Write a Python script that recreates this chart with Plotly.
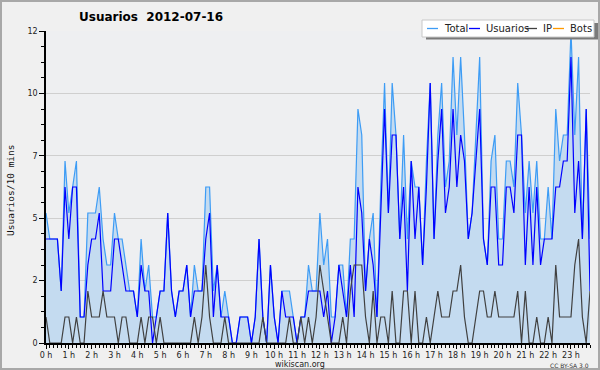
import plotly.graph_objects as go

# ---- data (10-minute intervals, 144 points) ----
hour_labels = [f"{h} h" for h in range(24)]
slots = list(range(144))

total = [5,4,4,4,2,7,5,6,7,1,1,5,5,5,6,4,3,3,5,4,4,3,2,
         2,1,4,2,3,1,1,2,2,5,2,1,2,2,3,1,3,2,2,6,6,
         2,3,1,2,1,0,0,1,1,1,0,1,4,1,0,3,1,0,2,2,2,1,0,1,1,3,2,2,
         5,3,4,1,1,3,3,1,4,4,9,8,2,4,5,1,6,10,5,10,8,4,8,4,
         7,6,6,3,7,10,4,8,10,6,7,11,8,11,8,4,5,8,11,4,3,7,8,
         4,4,7,7,6,10,8,5,7,5,7,4,4,6,4,9,7,8,8,12,8,11,4,9,4]

usuarios = [4,4,4,4,2,6,4,6,6,1,1,3,4,4,5,2,2,2,4,4,3,2,2,
            2,1,3,2,2,0,1,2,2,5,2,1,2,2,3,1,2,2,2,4,5,
            1,3,1,1,1,0,0,1,1,1,0,1,4,1,0,3,1,0,2,1,1,1,0,1,1,2,2,2,
            2,1,2,0,1,3,2,1,3,1,6,5,2,4,3,1,5,9,5,8,8,4,6,2,
            7,4,6,3,6,10,4,7,9,5,6,9,6,8,7,4,5,7,9,4,3,6,6,
            3,3,6,6,5,8,8,3,6,3,6,3,4,4,4,6,6,7,7,11,5,7,4,9,2]

ip = [1,0,0,0,0,1,1,0,1,0,0,2,1,1,1,2,1,1,1,0,1,1,0,
      0,0,1,0,1,1,0,1,0,0,0,0,0,0,0,0,1,0,1,3,1,0,0,0,
      1,0,0,0,0,0,0,0,0,0,1,0,0,0,0,0,0,1,0,0,1,0,1,0,1,
      3,2,1,0,0,0,1,0,2,3,3,3,1,0,2,0,1,1,0,2,0,0,2,2,
      0,2,0,0,1,0,1,2,1,1,1,2,2,3,1,0,0,1,2,2,1,1,2,
      1,1,1,1,1,2,0,2,0,0,1,0,0,1,0,3,1,1,1,1,3,4,1,0,2]

bots = [0] * 144

y_tickvals = [0, 2.4, 4.8, 7.2, 9.6, 12]
y_ticktext = ["0", "2", "5", "7", "10", "12"]

# ---- layout geometry (pixels) ----
W, H = 600, 370
L, R, T, B = 46, 10, 31, 27
PW, PH = W - L - R, H - T - B

def px(x):
    return (x - L) / PW

def py(y):
    return (H - B - y) / PH

C_TOTAL = "#3d9cf5"
C_FILL = "rgba(196,219,240,1)"
C_USU = "#0000ff"
C_IP = "#404040"
C_BOTS = "#ff9900"

fig = go.Figure()
fig.add_trace(go.Scatter(x=slots, y=bots, mode="lines", name="Bots",
                         line=dict(color=C_BOTS, width=1)))
fig.add_trace(go.Scatter(x=slots, y=total, mode="lines", name="Total",
                         fill="tozeroy", fillcolor=C_FILL,
                         line=dict(color=C_TOTAL, width=1.2)))
fig.add_trace(go.Scatter(x=slots, y=usuarios, mode="lines", name="Usuarios",
                         line=dict(color=C_USU, width=1.2)))
fig.add_trace(go.Scatter(x=slots, y=ip, mode="lines", name="IP",
                         line=dict(color=C_IP, width=1.2)))

shapes = []
annotations = []

# outer frame
shapes.append(dict(type="rect", xref="paper", yref="paper", layer="below",
                   x0=px(1), x1=px(599), y0=py(369), y1=py(1),
                   line=dict(color="#a8a8a8", width=2), fillcolor="rgba(0,0,0,0)"))

# legend (manual)
shapes.append(dict(type="rect", xref="paper", yref="paper", layer="above",
                   x0=px(426), x1=px(598), y0=py(39.5), y1=py(23),
                   line=dict(width=0), fillcolor="#7a7a7a"))
shapes.append(dict(type="rect", xref="paper", yref="paper", layer="above",
                   x0=px(422), x1=px(594), y0=py(37), y1=py(20),
                   line=dict(color="#c8c8c8", width=1), fillcolor="#ffffff"))
legend_items = [("Total", C_TOTAL, 427, 442),
                ("Usuarios", C_USU, 469, 484),
                ("IP", C_IP, 526, 541),
                ("Bots", C_BOTS, 553, 568)]
ly = 28.5
for name, col, lx, tx in legend_items:
    shapes.append(dict(type="line", xref="paper", yref="paper", layer="above",
                       x0=px(lx), x1=px(lx + 11), y0=py(ly), y1=py(ly),
                       line=dict(color=col, width=1.3)))
    annotations.append(dict(text=name, xref="paper", yref="paper",
                            x=px(tx), y=py(ly), xanchor="left", yanchor="middle",
                            showarrow=False,
                            font=dict(family="DejaVu Sans", size=10, color="#222")))

# title
annotations.append(dict(text="<b>Usuarios  2012-07-16</b>", xref="paper", yref="paper",
                        x=px(151), y=py(17), xanchor="center", yanchor="middle",
                        showarrow=False,
                        font=dict(family="DejaVu Sans", size=12, color="#000")))
# y axis title
annotations.append(dict(text="Usuarios/10 mins", xref="paper", yref="paper",
                        x=px(10), y=py(190), xanchor="center", yanchor="middle",
                        textangle=-90, showarrow=False,
                        font=dict(family="DejaVu Sans Mono", size=9.5, color="#111")))
# footer
annotations.append(dict(text="wikiscan.org", xref="paper", yref="paper",
                        x=px(300), y=py(364.5), xanchor="center", yanchor="middle",
                        showarrow=False,
                        font=dict(family="DejaVu Sans", size=8, color="#222")))
annotations.append(dict(text="CC BY-SA 3.0", xref="paper", yref="paper",
                        x=px(569), y=py(365.5), xanchor="center", yanchor="middle",
                        showarrow=False,
                        font=dict(family="DejaVu Sans", size=6, color="#333")))

fig.update_layout(
    width=W, height=H,
    margin=dict(l=L, r=R, t=T, b=B, pad=0, autoexpand=False),
    paper_bgcolor="#f0f0f0",
    plot_bgcolor="#eeeff1",
    showlegend=False,
    shapes=shapes,
    annotations=annotations,
    font=dict(family="DejaVu Sans", size=8, color="#222"),
)

fig.update_xaxes(
    range=[0, 143], tickmode="array",
    tickvals=list(range(0, 144, 6)), ticktext=hour_labels,
    ticks="outside", ticklen=4, tickwidth=1, tickcolor="#000",
    showline=True, linecolor="#000", linewidth=1.5,
    showgrid=False, zeroline=False, automargin=False,
    tickfont=dict(family="DejaVu Sans", size=8, color="#222"),
    minor=dict(ticks="outside", ticklen=3, tickcolor="#000", dtick=1, tick0=0, showgrid=False),
    fixedrange=True,
)
fig.update_yaxes(
    range=[0, 12], tickmode="array",
    tickvals=y_tickvals, ticktext=y_ticktext,
    ticks="outside", ticklen=5, tickwidth=1, tickcolor="#000",
    showline=True, linecolor="#000", linewidth=1.5,
    showgrid=True, gridcolor="#cfcfcf", gridwidth=1,
    zeroline=False, automargin=False,
    tickfont=dict(family="DejaVu Sans", size=8, color="#222"),
    minor=dict(ticks="outside", ticklen=3, tickcolor="#000", dtick=0.6, tick0=0, showgrid=False),
    fixedrange=True,
)

fig.write_html("out.html", config={"displayModeBar": False},
               post_script="document.body.style.margin='0';document.body.style.overflow='hidden';")
